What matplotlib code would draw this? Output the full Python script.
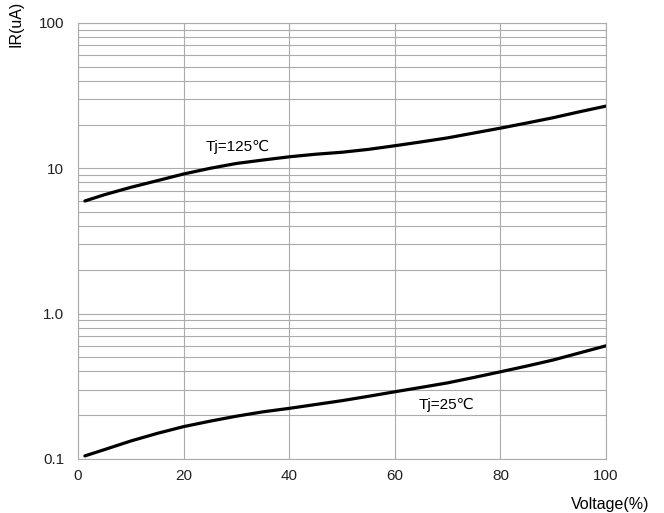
import numpy as np
from matplotlib import pyplot as plt
from matplotlib.ticker import LogLocator, FixedLocator, FixedFormatter, NullFormatter

# Reverse current vs. percent of rated voltage
voltage = [1.3, 5, 10, 15, 20, 25, 30, 35, 40, 45, 50,
           55, 60, 65, 70, 75, 80, 85, 90, 95, 100]
ir_125 = [5.96, 6.58, 7.40, 8.22, 9.14, 10.0, 10.8, 11.4, 12.0, 12.5, 12.9,
          13.5, 14.3, 15.2, 16.2, 17.5, 18.9, 20.5, 22.3, 24.5, 26.8]
ir_25 = [0.105, 0.116, 0.133, 0.150, 0.167, 0.182, 0.197, 0.211, 0.223, 0.237, 0.252,
         0.270, 0.290, 0.311, 0.334, 0.364, 0.398, 0.436, 0.480, 0.537, 0.601]

y_ticks = [0.1, 1.0, 10, 100]
y_labels = ["0.1", "1.0", "10", "100"]
x_ticks = [0, 20, 40, 60, 80, 100]

fonts = ["Liberation Sans", "DejaVu Sans"]
plt.rcParams["font.family"] = fonts
grid_col = "#ababab"

fig = plt.figure(figsize=(6.64, 5.13), dpi=100)
ax = fig.add_axes([0.1175, 0.1053, 0.7952, 0.8499])

ax.plot(voltage, ir_125, color="black", linewidth=2.3, solid_capstyle="round")
ax.plot(voltage, ir_25, color="black", linewidth=2.3, solid_capstyle="round")

ax.set_yscale("log")
ax.set_xlim(0, 100)
ax.set_ylim(0.1, 100)

ax.yaxis.set_major_locator(FixedLocator(y_ticks))
ax.yaxis.set_major_formatter(FixedFormatter(y_labels))
ax.yaxis.set_minor_locator(LogLocator(base=10, subs=np.arange(2, 10)))
ax.yaxis.set_minor_formatter(NullFormatter())
ax.set_xticks(x_ticks)

ax.grid(True, which="both", axis="y", color=grid_col, linewidth=0.8)
ax.grid(True, which="major", axis="x", color=grid_col, linewidth=0.8)
ax.set_axisbelow(True)
for s in ax.spines.values():
    s.set_color(grid_col)
    s.set_linewidth(0.8)

ax.tick_params(axis="both", which="both", length=0, labelsize=11, colors="#222222")
ax.tick_params(axis="x", pad=7)
ax.tick_params(axis="y", pad=10)

# curve labels
ax.text(30.3, 14.1, "Tj=125℃", ha="center", va="center", fontsize=11, family=fonts)
ax.text(69.8, 0.235, "Tj=25℃", ha="center", va="center", fontsize=11, family=fonts)

fig.text(0.024, 0.998, "IR(uA)", rotation=90, ha="center", va="top", fontsize=11.5)
fig.text(0.86, 0.0156, "Voltage(%)", ha="left", va="center", fontsize=11.5)

fig.savefig("out.png", dpi=100)
